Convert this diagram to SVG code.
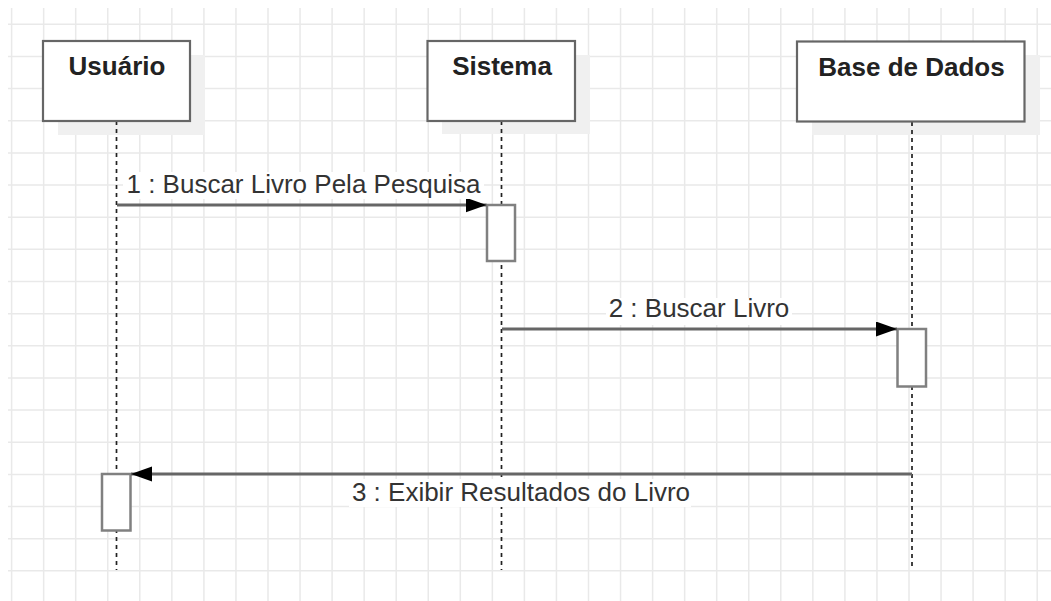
<svg xmlns="http://www.w3.org/2000/svg" width="1051" height="601" viewBox="0 0 1051 601">
<defs>
<style>
.grid{stroke:#e9e9e9;stroke-width:1.5;fill:none}
.shadow{fill:#f0f0f0}
.head{fill:#fff;stroke:#666;stroke-width:2.2}
.htxt{font-family:"Liberation Sans",Arial,sans-serif;font-weight:bold;font-size:26px;fill:#222;text-anchor:middle}
.life{stroke:#222;stroke-width:1.7;stroke-dasharray:4 4;fill:none}
.act{fill:#fff;stroke:#808080;stroke-width:2.5}
.msg{stroke:#666;stroke-width:2.8;fill:none}
.mtxt{font-family:"Liberation Sans",Arial,sans-serif;font-size:26px;fill:#333;text-anchor:middle}
.lbg{fill:#fff}
</style>
<marker id="arr" markerUnits="userSpaceOnUse" markerWidth="22" markerHeight="16" refX="21" refY="7.5" orient="auto">
<path d="M0,0 L21,7.5 L0,15 z" fill="#000"/>
</marker>
</defs>
<rect width="1051" height="601" fill="#fff"/>
<g id="grid" class="grid">
<path d="M11.6,8V601M43.65,8V601M75.7,8V601M107.75,8V601M139.8,8V601M171.85,8V601M203.9,8V601M235.95,8V601M268,8V601M300.05,8V601M332.1,8V601M364.15,8V601M396.2,8V601M428.25,8V601M460.3,8V601M492.35,8V601M524.4,8V601M556.45,8V601M588.5,8V601M620.55,8V601M652.6,8V601M684.65,8V601M716.7,8V601M748.75,8V601M780.8,8V601M812.85,8V601M844.9,8V601M876.95,8V601M909,8V601M941.05,8V601M973.1,8V601M1005.15,8V601M1037.2,8V601"/>
<path d="M8,24.3H1051M8,56.45H1051M8,88.6H1051M8,120.75H1051M8,152.9H1051M8,185.05H1051M8,217.2H1051M8,249.35H1051M8,281.5H1051M8,313.65H1051M8,345.8H1051M8,377.95H1051M8,410.1H1051M8,442.25H1051M8,474.4H1051M8,506.55H1051M8,538.7H1051M8,570.85H1051"/>
</g>
<g id="shadows">
<rect class="shadow" x="58" y="55" width="147" height="80"/>
<rect class="shadow" x="442" y="55" width="148" height="79"/>
<rect class="shadow" x="812" y="55" width="228" height="80"/>
</g>
<g id="lifelines">
<path class="life" d="M116.5,121V570"/>
<path class="life" d="M501.5,121V570"/>
<path class="life" d="M912,122V570"/>
</g>
<g id="usuario">
<rect class="head" x="43" y="41" width="147" height="80"/>
<text class="htxt" x="117" y="75">Usuário</text>
</g>
<g id="sistema">
<rect class="head" x="427.5" y="41" width="147.5" height="80"/>
<text class="htxt" x="502" y="75">Sistema</text>
</g>
<g id="base">
<rect class="head" x="797" y="41.5" width="227.5" height="80"/>
<text class="htxt" x="911.5" y="75.5">Base de Dados</text>
</g>
<g id="act-sistema"><rect class="act" x="487" y="205" width="28" height="56"/></g>
<g id="act-base"><rect class="act" x="897.5" y="329" width="28.5" height="57.5"/></g>
<g id="act-usuario"><rect class="act" x="102" y="474" width="28.5" height="56.5"/></g>
<g id="connectors">
<path class="msg" d="M117,205H486.5" marker-end="url(#arr)"/>
<path class="msg" d="M502,329H897" marker-end="url(#arr)"/>
<path class="msg" d="M912,474H131" marker-end="url(#arr)"/>
</g>
<g id="labels">
<rect class="lbg" x="123" y="172" width="361" height="27"/>
<text class="mtxt" x="303.5" y="193">1 : Buscar Livro Pela Pesquisa</text>
<rect class="lbg" x="606" y="298" width="186" height="27"/>
<text class="mtxt" x="699" y="317">2 : Buscar Livro</text>
<rect class="lbg" x="349" y="479" width="342" height="28"/>
<text class="mtxt" x="521" y="501">3 : Exibir Resultados do Livro</text>
</g>
</svg>
